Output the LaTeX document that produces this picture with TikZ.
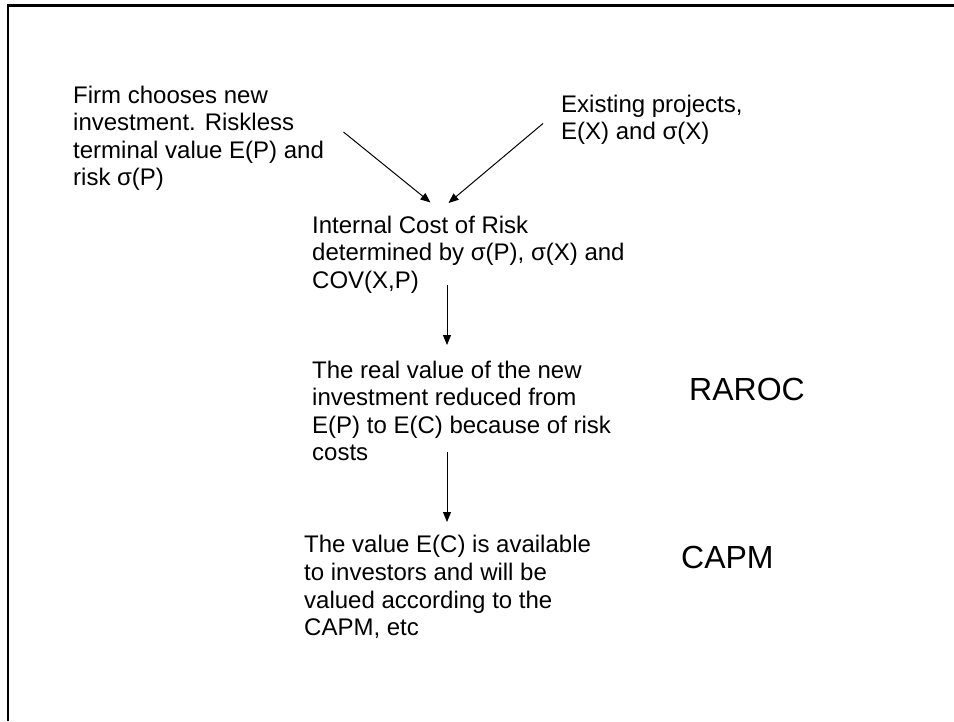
\documentclass[tikz,border=0pt]{standalone}
\usepackage{fontspec}
\setmainfont{Liberation Sans}
\usetikzlibrary{arrows.meta}
\tikzset{
  txt/.style={anchor=base west, inner sep=0pt, align=left, font=\fontsize{24}{27.6}\selectfont},
  big/.style={anchor=base west, inner sep=0pt, font=\fontsize{32}{38}\selectfont},
  conn/.style={line width=1pt, -{Triangle[length=10pt,width=8pt]}},
  frame/.style={line width=2.2pt, black}
}
\begin{document}
\begin{tikzpicture}[x=1pt,y=-1pt]
\useasboundingbox (0,0) rectangle (954,721);
\fill[white] (0,0) rectangle (954,721);
% frame
\coordinate (tl) at (8,5.5);
\coordinate (tr) at (954,5.5);
\coordinate (bl) at (8,721);
\draw[frame] (tr) -- (tl) -- (bl);
% texts (anchored at the baseline of their last line)
\node[txt] (firm) at (73,185.8) {Firm chooses new\\investment. Riskless\\terminal value E(P) and\\risk σ(P)};
\node[txt] (exist) at (561,139.6) {Existing projects,\\E(X) and σ(X)};
\node[txt] (icr) at (312,288.2) {Internal Cost of Risk\\determined by σ(P), σ(X) and\\COV(X,P)};
\node[txt] (real) at (312,460.8) {The real value of the new\\investment reduced from\\E(P) to E(C) because of risk\\costs};
\node[txt] (value) at (304,635.6) {The value E(C) is available\\to investors and will be\\valued according to the\\CAPM, etc};
\node[big] (raroc) at (689,400) {RAROC};
\node[big] (capm) at (681,568) {CAPM};
% connector ends
\coordinate (a1s) at (343.5,132);
\coordinate (a1e) at (430.5,202.5);
\coordinate (a2s) at (543,123.5);
\coordinate (a2e) at (448.5,203);
\coordinate (a3s) at (447,285);
\coordinate (a3e) at (447,345);
\coordinate (a4s) at (447,452);
\coordinate (a4e) at (447,522);
\draw[conn] (a1s) -- (a1e);
\draw[conn] (a2s) -- (a2e);
\draw[conn] (a3s) -- (a3e);
\draw[conn] (a4s) -- (a4e);
\end{tikzpicture}
\end{document}
